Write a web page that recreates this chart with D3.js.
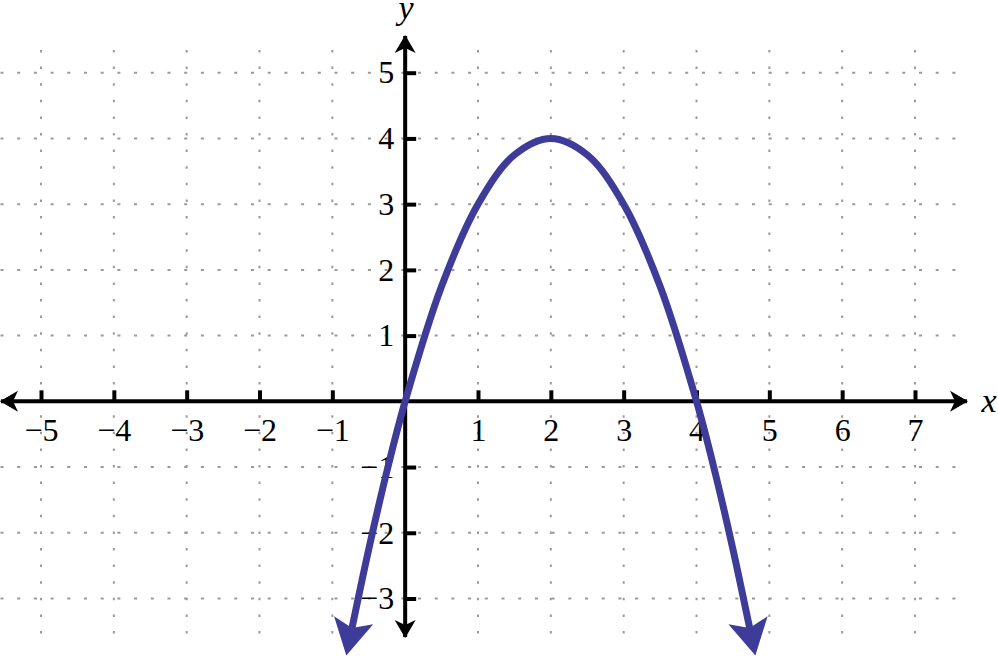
<!DOCTYPE html>
<html>
<head>
<meta charset="utf-8">
<script src="https://cdn.jsdelivr.net/npm/d3@7"></script>
<style>
  html, body { margin: 0; padding: 0; background: #fff; }
  svg { display: block; }
</style>
</head>
<body>
<svg id="chart" width="998" height="664"></svg>
<script>
// tick values and labels
var xTicks = [-5, -4, -3, -2, -1, 1, 2, 3, 4, 5, 6, 7];
var xTickLabels = ["\u22125", "\u22124", "\u22123", "\u22122", "\u22121", "1", "2", "3", "4", "5", "6", "7"];
var yTicks = [-3, -2, -1, 1, 2, 3, 4, 5];
var yTickLabels = ["\u22123", "\u22122", "\u22121", "1", "2", "3", "4", "5"];
var xGrid = [-5, -4, -3, -2, -1, 0, 1, 2, 3, 4, 5, 6, 7];
var yGrid = [-3, -2, -1, 0, 1, 2, 3, 4, 5];

// points along the parabola
var curveX = [-0.73, -0.5, -0.25, 0, 0.5, 1, 1.5, 2, 2.5, 3, 3.5, 4, 4.25, 4.5, 4.73];
var curveY = [-3.45, -2.25, -1.06, 0, 1.75, 3, 3.75, 4, 3.75, 3, 1.75, 0, -1.06, -2.25, -3.45];

var serif = "'Liberation Serif', 'Times New Roman', Times, serif";

var svg = d3.select("#chart");

var x = d3.scaleLinear().domain([-5, 7]).range([41, 915]);
var y = d3.scaleLinear().domain([-3, 5]).range([598.5, 72.7]);

var x0 = x(0), y0 = y(0);

// arrow markers
var defs = svg.append("defs");
defs.append("marker")
    .attr("id", "axisArrow")
    .attr("markerUnits", "userSpaceOnUse")
    .attr("viewBox", "-2 -13 24 26")
    .attr("markerWidth", 24).attr("markerHeight", 26)
    .attr("refX", 17).attr("refY", 0)
    .attr("orient", "auto-start-reverse")
    .append("path")
    .attr("d", "M0,-10.5 L18,0 L0,10.5 L5,0 Z")
    .attr("fill", "#000");

defs.append("marker")
    .attr("id", "curveArrow")
    .attr("markerUnits", "userSpaceOnUse")
    .attr("viewBox", "-2 -23 40 46")
    .attr("markerWidth", 40).attr("markerHeight", 46)
    .attr("refX", 8).attr("refY", 0)
    .attr("orient", "auto-start-reverse")
    .append("path")
    .attr("d", "M0,-20 L36,0 L0,20 L8,0 Z")
    .attr("fill", "#3f3c99");

// dotted grid
var grid = svg.append("g").attr("stroke", "#9a9a9a").attr("stroke-width", 2).attr("fill", "none");
grid.selectAll("line.h").data(yGrid).enter().append("line")
    .attr("class", "h")
    .attr("x1", 0).attr("x2", 956)
    .attr("y1", function(d) { return y(d); })
    .attr("y2", function(d) { return y(d); })
    .attr("stroke-dasharray", "3,13.7")
    .attr("stroke-dashoffset", -0.5);
grid.selectAll("line.v").data(xGrid).enter().append("line")
    .attr("class", "v")
    .attr("y1", 50).attr("y2", 640)
    .attr("x1", function(d) { return x(d); })
    .attr("x2", function(d) { return x(d); })
    .attr("stroke-dasharray", "2.5,14.1");

// axis lines with arrowheads
svg.append("line")
    .attr("x1", 1).attr("x2", 967)
    .attr("y1", y0).attr("y2", y0)
    .attr("stroke", "#000").attr("stroke-width", 4)
    .attr("marker-start", "url(#axisArrow)")
    .attr("marker-end", "url(#axisArrow)");
svg.append("line")
    .attr("x1", x0).attr("x2", x0)
    .attr("y1", 36).attr("y2", 637)
    .attr("stroke", "#000").attr("stroke-width", 4)
    .attr("marker-start", "url(#axisArrow)")
    .attr("marker-end", "url(#axisArrow)");

// ticks and labels
var xAxis = svg.append("g")
    .attr("transform", "translate(0," + y0 + ")")
    .call(d3.axisBottom(x).tickValues(xTicks).tickSize(-11).tickPadding(17)
        .tickFormat(function(d, i) { return xTickLabels[i]; }));
var yAxis = svg.append("g")
    .attr("transform", "translate(" + x0 + ",0)")
    .call(d3.axisLeft(y).tickValues(yTicks).tickSize(-11).tickPadding(11)
        .tickFormat(function(d, i) { return yTickLabels[i]; }));

[xAxis, yAxis].forEach(function(g) {
    g.attr("font-family", serif).attr("font-size", 32);
    g.select(".domain").remove();
    g.selectAll(".tick line").attr("stroke", "#000").attr("stroke-width", 4);
    g.selectAll(".tick text").attr("fill", "#000");
});

// the parabola
var pts = curveX.map(function(d, i) { return [d, curveY[i]]; });
var line = d3.line()
    .x(function(d) { return x(d[0]); })
    .y(function(d) { return y(d[1]); })
    .curve(d3.curveCatmullRom);

svg.append("path")
    .datum(pts)
    .attr("d", line)
    .attr("fill", "none")
    .attr("stroke", "#3f3c99")
    .attr("stroke-width", 7)
    .attr("marker-start", "url(#curveArrow)")
    .attr("marker-end", "url(#curveArrow)");

// axis names
svg.append("text")
    .attr("x", 989).attr("y", y0 + 11)
    .attr("text-anchor", "middle")
    .attr("font-family", serif).attr("font-style", "italic").attr("font-size", 34)
    .text("x");
svg.append("text")
    .attr("x", x0 + 1).attr("y", 19)
    .attr("text-anchor", "middle")
    .attr("font-family", serif).attr("font-style", "italic").attr("font-size", 34)
    .text("y");
</script>
</body>
</html>
